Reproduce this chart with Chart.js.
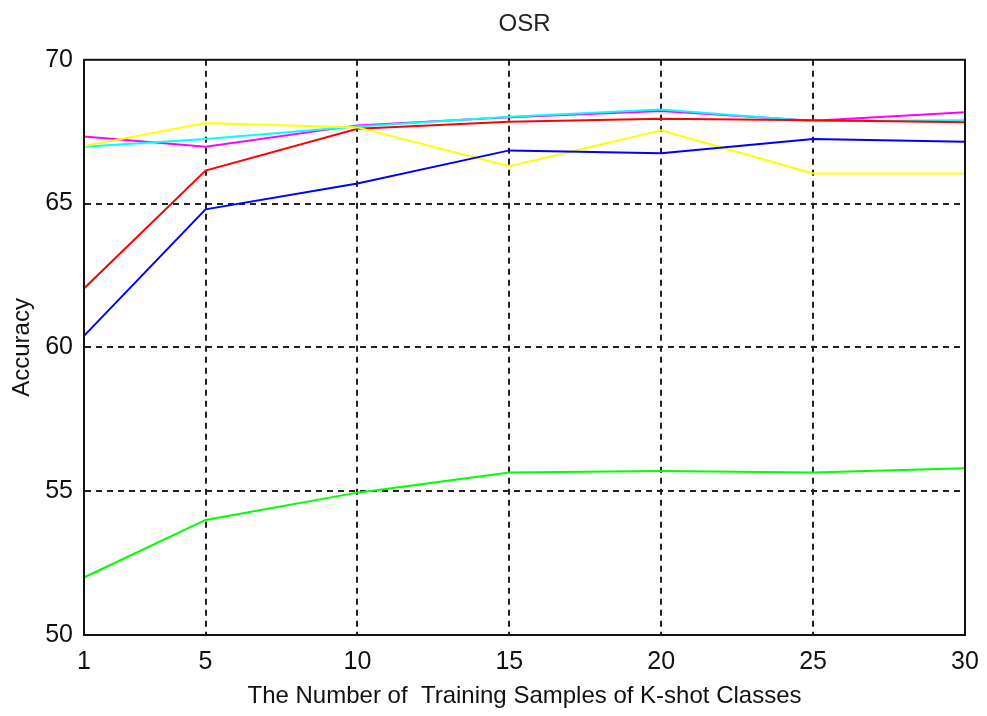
<!DOCTYPE html>
<html>
  <head>
    <title>OSR</title>
    <script src="https://cdn.jsdelivr.net/npm/chart.js"></script>
    <style>
      html, body { margin: 0; padding: 0; background: #fff; }
      #wrap { width: 987px; height: 716px; }
    </style>
  </head>
  <body>
    <div id="wrap"><canvas id="chart"></canvas></div>
    <script>
// k-shot sample counts (x axis)
const kShots = [1, 5, 10, 15, 20, 25, 30];
const yTicks = [50, 55, 60, 65, 70];

// accuracy per series
const blueAcc    = [60.4, 64.8, 65.7, 66.85, 66.75, 67.25, 67.15];
const yellowAcc  = [67.0, 67.8, 67.65, 66.3, 67.55, 66.05, 66.05];
const redAcc     = [62.05, 66.15, 67.6, 67.85, 67.95, 67.9, 67.83];
const greenAcc   = [52.0, 54.0, 54.95, 55.65, 55.7, 55.65, 55.8];
const cyanAcc    = [66.98, 67.25, 67.68, 68.02, 68.27, 67.86, 67.9];
const magentaAcc = [67.33, 66.98, 67.72, 68.0, 68.22, 67.88, 68.18];

const toPoints = arr => arr.map((v, i) => ({ x: kShots[i], y: v }));

const series = [
  { color: '#0000ff', data: blueAcc },
  { color: '#ffff00', data: yellowAcc },
  { color: '#ff0000', data: redAcc },
  { color: '#00ff00', data: greenAcc },
  { color: '#00ffff', data: cyanAcc },
  { color: '#ff00ff', data: magentaAcc }
];

const fontFam = "'Liberation Sans', Arial, sans-serif";

// solid frame around the plot box
const framePlugin = {
  id: 'frame',
  afterDatasetsDraw(chart) {
    const { ctx, chartArea: a } = chart;
    ctx.save();
    ctx.strokeStyle = '#111';
    ctx.lineWidth = 2;
    ctx.strokeRect(a.left, a.top, a.right - a.left, a.bottom - a.top);
    ctx.restore();
  }
};

new Chart(document.getElementById('chart'), {
  type: 'line',
  data: {
    datasets: series.map(s => ({
      data: toPoints(s.data),
      borderColor: s.color,
      backgroundColor: s.color,
      borderWidth: 2,
      pointRadius: 0,
      fill: false,
      tension: 0
    }))
  },
  options: {
    responsive: true,
    maintainAspectRatio: false,
    animation: false,
    layout: { padding: { left: 0, right: 22, top: 0, bottom: 0 } },
    plugins: {
      legend: { display: false },
      tooltip: { enabled: false },
      title: {
        display: true,
        fullSize: false,
        text: 'OSR',
        color: '#222',
        font: { family: fontFam, size: 24, weight: 'normal' },
        padding: { top: 10, bottom: 21 }
      }
    },
    scales: {
      x: {
        type: 'linear',
        min: 1,
        max: 30,
        afterBuildTicks: scale => { scale.ticks = kShots.map(v => ({ value: v })); },
        afterFit: scale => {
          scale.height = 81;
          scale.paddingLeft = 0;
          scale.paddingRight = 0;
        },
        ticks: {
          color: '#111',
          padding: 12,
          maxRotation: 0,
          font: { family: fontFam, size: 25 }
        },
        grid: {
          color: c => (c.tick && (c.tick.value === 1 || c.tick.value === 30)) ? 'rgba(0,0,0,0)' : '#222',
          lineWidth: 2,
          drawTicks: false
        },
        border: { display: true, color: '#111', width: 2, dash: [6, 5] },
        title: {
          display: true,
          text: 'The Number of  Training Samples of K-shot Classes',
          color: '#111',
          font: { family: fontFam, size: 24 },
          padding: { top: 0, bottom: 5 }
        }
      },
      y: {
        min: 50,
        max: 70,
        afterBuildTicks: scale => { scale.ticks = yTicks.map(v => ({ value: v })); },
        afterFit: scale => { scale.width = 84; },
        ticks: {
          color: '#111',
          padding: 11,
          font: { family: fontFam, size: 25 }
        },
        grid: {
          color: c => (c.tick && (c.tick.value === 50 || c.tick.value === 70)) ? 'rgba(0,0,0,0)' : '#222',
          lineWidth: 2,
          drawTicks: false
        },
        border: { display: true, color: '#111', width: 2, dash: [6, 5] },
        title: {
          display: true,
          text: 'Accuracy',
          color: '#111',
          font: { family: fontFam, size: 24 },
          padding: { top: 8, bottom: 0 }
        }
      }
    }
  },
  plugins: [framePlugin]
});
    </script>
  </body>
</html>
